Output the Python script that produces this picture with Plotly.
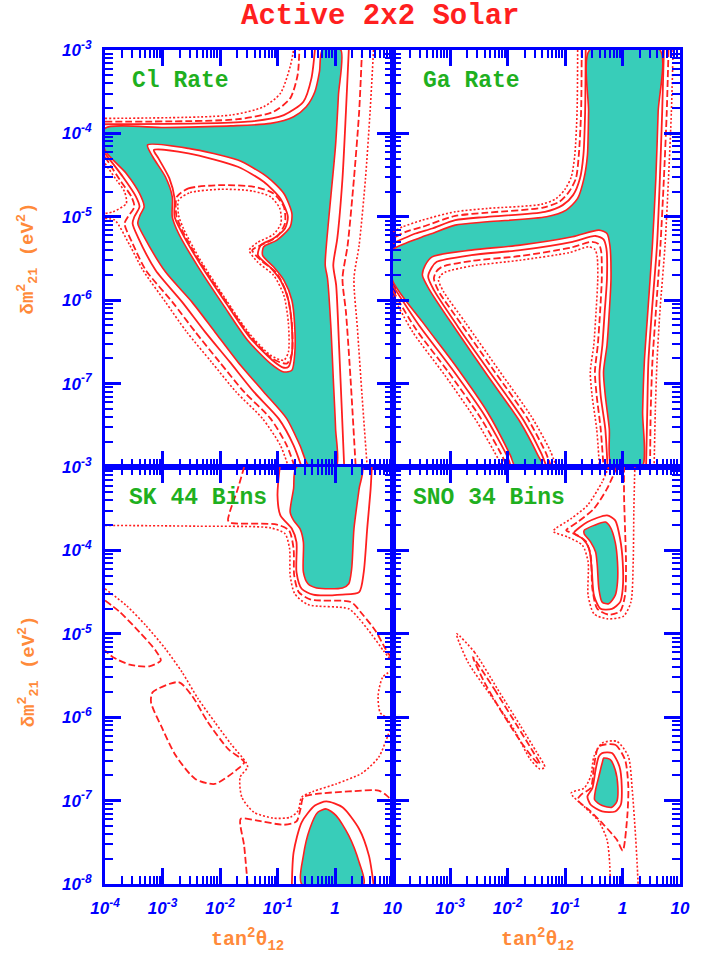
import plotly.graph_objects as go
from plotly.subplots import make_subplots

# ---------------- axes / labels ----------------
X_TICKS = [1e-4, 1e-3, 1e-2, 1e-1, 1, 10]
X_TICK_TEXT = ["10<sup>-4</sup>", "10<sup>-3</sup>", "10<sup>-2</sup>", "10<sup>-1</sup>", "1", "10"]
Y_TICKS = [1e-8, 1e-7, 1e-6, 1e-5, 1e-4, 1e-3]
Y_TICK_TEXT = ["10<sup>-8</sup>", "10<sup>-7</sup>", "10<sup>-6</sup>", "10<sup>-5</sup>", "10<sup>-4</sup>", "10<sup>-3</sup>"]
PANEL_TITLES = ["Cl Rate", "Ga Rate", "SK 44 Bins", "SNO 34 Bins"]
TITLE = "Active 2x2 Solar"

# ---------------- contour data: log10(tan^2), log10(dm^2) ----------------
# Cl rate
CL_CORE_X = [-4.00, -2.95, -1.81, -1.12, -0.72, -0.50, -0.35, -0.27, -0.22, 0.10, 0.06, 0.01, -0.07, -0.14, -0.17, -0.13, -0.07, -0.03, 0.01, 0.02, -0.44, -0.61, -0.84, -1.24, -1.69, -2.09, -2.49, -2.95, -3.32, -3.43, -3.39, -3.32, -3.40, -3.63, -4.00]
CL_CORE_Y = [-3.94, -3.93, -3.91, -3.88, -3.80, -3.68, -3.50, -3.26, -3.00, -3.00, -3.54, -4.14, -4.74, -5.26, -5.58, -5.74, -6.34, -6.94, -7.54, -8.00, -8.00, -7.74, -7.42, -7.10, -6.74, -6.38, -6.02, -5.66, -5.24, -5.08, -4.98, -4.88, -4.72, -4.48, -4.20]
CL_HOLE_X = [-3.26, -2.55, -1.69, -1.18, -0.89, -0.75, -0.78, -1.01, -1.24, -1.26, -1.07, -0.89, -0.75, -0.70, -0.70, -0.75, -0.89, -1.12, -1.52, -1.92, -2.38, -2.72, -2.83, -2.83, -2.95, -3.17]
CL_HOLE_Y = [-4.14, -4.18, -4.32, -4.52, -4.72, -4.96, -5.12, -5.28, -5.36, -5.46, -5.60, -5.76, -6.00, -6.32, -6.64, -6.84, -6.86, -6.76, -6.48, -6.08, -5.60, -5.20, -5.00, -4.76, -4.52, -4.28]
CL_S2_TOP_X = [-4.00, -1.52, -0.89, -0.55, -0.41, -0.35]
CL_S2_TOP_Y = [-3.89, -3.86, -3.78, -3.62, -3.34, -3.00]
CL_DA_TOP_X = [-4.00, -1.69, -1.07, -0.78, -0.65, -0.62]
CL_DA_TOP_Y = [-3.86, -3.83, -3.74, -3.58, -3.30, -3.00]
CL_DO_TOP_X = [-4.00, -1.81, -1.24, -0.95, -0.78, -0.72]
CL_DO_TOP_Y = [-3.82, -3.78, -3.68, -3.52, -3.20, -3.00]
CL_S2_RIGHT_X = [0.24, 0.19, 0.13, 0.04, -0.03, 0.02, 0.07, 0.12, 0.16]
CL_S2_RIGHT_Y = [-3.00, -3.74, -4.54, -5.26, -5.58, -5.82, -6.54, -7.34, -8.00]
CL_DA_RIGHT_X = [0.47, 0.42, 0.33, 0.22, 0.13, 0.19, 0.27, 0.36]
CL_DA_RIGHT_Y = [-3.00, -3.74, -4.54, -5.34, -5.74, -6.14, -6.94, -8.00]
CL_DO_RIGHT_X = [0.67, 0.61, 0.53, 0.42, 0.33, 0.39, 0.47, 0.56]
CL_DO_RIGHT_Y = [-3.00, -3.74, -4.54, -5.34, -5.74, -6.34, -7.14, -8.00]
CL_S2_LL_X = [-4.00, -3.69, -3.46, -3.40, -3.49, -3.52, -3.43, -3.12, -2.66, -2.26, -1.83, -1.41, -0.98, -0.72, -0.58]
CL_S2_LL_Y = [-4.24, -4.52, -4.76, -4.88, -5.00, -5.08, -5.24, -5.64, -6.02, -6.38, -6.74, -7.10, -7.42, -7.74, -8.00]
CL_DA_LL_X = [-4.00, -3.74, -3.54, -3.49, -3.60, -3.66, -3.52, -3.29, -2.83, -2.43, -2.01, -1.58, -1.12, -0.84, -0.70]
CL_DA_LL_Y = [-4.28, -4.56, -4.76, -4.88, -5.00, -5.08, -5.32, -5.64, -6.02, -6.38, -6.74, -7.10, -7.42, -7.74, -8.00]
CL_DO_LOOP_X = [-4.00, -3.80, -3.66, -3.63, -3.86, -4.00]
CL_DO_LOOP_Y = [-4.36, -4.56, -4.70, -4.84, -4.94, -4.96]
CL_DO_LL_X = [-4.00, -3.83, -3.57, -3.34, -2.95, -2.58, -2.15, -1.72, -1.26, -0.95, -0.81]
CL_DO_LL_Y = [-5.02, -5.04, -5.34, -5.64, -6.02, -6.38, -6.74, -7.10, -7.42, -7.74, -8.00]
CL_S2_HOLE_X = [-3.15, -2.55, -1.69, -1.24, -0.95, -0.82, -0.87, -1.07, -1.29, -1.34, -1.12, -0.94, -0.81, -0.75, -0.75, -0.81, -0.89, -1.09, -1.49, -1.89, -2.35, -2.67, -2.79, -2.79, -2.88, -3.07]
CL_S2_HOLE_Y = [-4.20, -4.24, -4.40, -4.58, -4.78, -5.00, -5.14, -5.26, -5.34, -5.46, -5.61, -5.77, -6.00, -6.32, -6.64, -6.80, -6.81, -6.72, -6.44, -6.04, -5.56, -5.18, -5.00, -4.78, -4.54, -4.30]
CL_DA_HOLE_X = [-2.75, -2.55, -1.98, -1.41, -1.07, -0.89, -0.87, -1.01, -1.29, -1.44, -1.29, -1.01, -0.84, -0.75, -0.75, -0.84, -1.09, -1.49, -1.89, -2.35, -2.66, -2.76]
CL_DA_HOLE_Y = [-4.76, -4.66, -4.62, -4.64, -4.72, -4.88, -5.08, -5.24, -5.34, -5.40, -5.52, -5.68, -5.92, -6.28, -6.64, -6.76, -6.70, -6.42, -6.02, -5.54, -5.16, -4.98]
CL_DO_HOLE_X = [-2.72, -2.52, -1.98, -1.44, -1.12, -0.96, -0.94, -1.07, -1.35, -1.49, -1.35, -1.07, -0.89, -0.81, -0.81, -0.89, -1.12, -1.49, -1.89, -2.34, -2.63, -2.72]
CL_DO_HOLE_Y = [-4.80, -4.71, -4.67, -4.69, -4.76, -4.90, -5.08, -5.21, -5.31, -5.40, -5.54, -5.70, -5.94, -6.28, -6.62, -6.72, -6.66, -6.40, -6.00, -5.52, -5.15, -4.98]

# Ga rate
GA_CORE_X = [-0.57, 0.65, 0.62, 0.58, 0.52, 0.44, 0.38, 0.35, 0.34, -0.19, -0.23, -0.30, -0.33, -0.27, -0.23, -0.20, -0.22, -0.27, -0.41, -0.87, -1.78, -2.63, -3.31, -3.43, -3.48, -3.37, -2.91, -2.35, -1.78, -1.47, -1.38, -1.86, -1.95, -2.35, -2.91, -3.48, -4.00, -4.00, -3.71, -3.48, -3.31, -2.91, -2.35, -1.32, -0.98, -0.78, -0.67, -0.61, -0.59]
GA_CORE_Y = [-3.00, -3.00, -3.74, -4.54, -5.34, -6.14, -6.74, -7.34, -8.00, -8.00, -7.54, -7.14, -6.86, -6.54, -6.14, -5.74, -5.34, -5.20, -5.16, -5.24, -5.34, -5.40, -5.48, -5.58, -5.70, -5.86, -6.34, -6.90, -7.46, -7.86, -8.00, -8.00, -7.86, -7.34, -6.78, -6.26, -5.76, -5.40, -5.30, -5.24, -5.20, -5.10, -5.06, -5.00, -4.92, -4.78, -4.54, -4.26, -3.74]
GA_S2_UL_X = [-0.64, -0.65, -0.68, -0.74, -0.86, -1.04, -1.35, -2.35, -2.91, -3.31, -3.60, -4.00]
GA_S2_UL_Y = [-3.00, -3.74, -4.26, -4.54, -4.74, -4.86, -4.94, -5.00, -5.04, -5.14, -5.20, -5.32]
GA_DA_UL_X = [-0.71, -0.72, -0.76, -0.81, -0.93, -1.10, -1.38, -2.35, -2.91, -3.48, -3.77, -4.00]
GA_DA_UL_Y = [-3.00, -3.74, -4.26, -4.54, -4.70, -4.82, -4.89, -4.95, -4.99, -5.12, -5.18, -5.26]
GA_DO_UL_X = [-0.78, -0.79, -0.83, -0.89, -1.00, -1.15, -1.41, -2.35, -2.91, -3.48, -3.82, -4.00]
GA_DO_UL_Y = [-3.00, -3.74, -4.26, -4.52, -4.67, -4.78, -4.85, -4.90, -4.94, -5.04, -5.12, -5.18]
GA_R_Y = [-3.00, -3.74, -4.54, -5.34, -6.14, -6.74, -7.34, -8.00]
GA_S2_R_X = [0.72, 0.69, 0.65, 0.60, 0.51, 0.45, 0.43, 0.41]
GA_DA_R_X = [0.80, 0.77, 0.72, 0.66, 0.58, 0.52, 0.49, 0.48]
GA_DO_R_X = [0.88, 0.85, 0.80, 0.74, 0.65, 0.60, 0.57, 0.55]
GA_S2_LL_X = [-4.00, -3.54, -2.97, -2.40, -2.00, -1.94]
GA_S2_LL_Y = [-5.82, -6.30, -6.82, -7.38, -7.88, -8.00]
GA_DA_LL_X = [-4.00, -3.60, -3.03, -2.46, -2.07, -2.02]
GA_DA_LL_Y = [-5.88, -6.34, -6.86, -7.42, -7.90, -8.00]
GA_DO_LL_X = [-4.00, -3.65, -3.09, -2.53, -2.15, -2.10]
GA_DO_LL_Y = [-5.94, -6.38, -6.90, -7.46, -7.92, -8.00]
GA_S2_TRI_X = [-1.32, -1.41, -1.72, -2.29, -2.86, -3.28, -3.38, -3.32, -3.23, -2.63, -1.78, -0.87, -0.47, -0.33, -0.28, -0.27, -0.31, -0.35, -0.40, -0.38, -0.30, -0.26]
GA_S2_TRI_Y = [-8.00, -7.84, -7.44, -6.88, -6.32, -5.88, -5.72, -5.61, -5.54, -5.46, -5.40, -5.30, -5.23, -5.27, -5.38, -5.74, -6.14, -6.54, -6.86, -7.14, -7.54, -8.00]
GA_DA_TRI_X = [-1.24, -1.34, -1.65, -2.22, -2.79, -3.20, -3.28, -3.24, -3.14, -2.63, -1.78, -0.90, -0.53, -0.41, -0.37, -0.36, -0.39, -0.43, -0.48, -0.45, -0.38, -0.33]
GA_DA_TRI_Y = [-8.00, -7.82, -7.42, -6.86, -6.30, -5.89, -5.74, -5.66, -5.60, -5.53, -5.47, -5.37, -5.30, -5.33, -5.42, -5.74, -6.14, -6.54, -6.86, -7.14, -7.54, -8.00]
GA_DO_TRI_X = [-1.15, -1.26, -1.58, -2.15, -2.72, -3.11, -3.20, -3.16, -3.07, -2.63, -1.78, -0.93, -0.59, -0.48, -0.44, -0.43, -0.46, -0.50, -0.56, -0.53, -0.45, -0.40]
GA_DO_TRI_Y = [-8.00, -7.80, -7.40, -6.84, -6.28, -5.90, -5.76, -5.70, -5.66, -5.59, -5.52, -5.43, -5.36, -5.39, -5.48, -5.74, -6.14, -6.54, -6.86, -7.14, -7.54, -8.00]

# SK 44 bins
SK_CORE1_X = [-0.67, -0.72, -0.78, -0.72, -0.61, -0.55, -0.55, -0.47, -0.32, 0.13, 0.24, 0.29, 0.33, 0.42, 0.47]
SK_CORE1_Y = [-3.00, -3.26, -3.54, -3.64, -3.74, -3.90, -4.26, -4.40, -4.45, -4.45, -4.40, -4.22, -3.74, -3.26, -3.00]
SK_S2_1_X = [-0.96, -1.00, -0.95, -0.75, -0.67, -0.67, -0.58, -0.38, 0.13, 0.42, 0.50, 0.56, 0.62, 0.64]
SK_S2_1_Y = [-3.00, -3.34, -3.58, -3.74, -3.90, -4.26, -4.46, -4.53, -4.53, -4.50, -4.26, -3.74, -3.26, -3.00]
SK_DA_1_X = [-1.58, -1.69, -1.83, -1.86, -1.81, -1.01, -0.80, -0.72, -0.71, -0.63, -0.42, 0.28, 0.47, 0.70, 0.87, 0.99]
SK_DA_1_Y = [-3.00, -3.26, -3.54, -3.64, -3.67, -3.69, -3.76, -3.98, -4.30, -4.50, -4.59, -4.62, -4.76, -4.96, -5.17, -5.30]
SK_DO_1_X = [-4.00, -2.38, -1.12, -0.87, -0.79, -0.78, -0.70, -0.47, 0.24, 0.42, 0.64, 0.84, 0.99]
SK_DO_1_Y = [-3.70, -3.71, -3.73, -3.80, -3.98, -4.30, -4.52, -4.65, -4.70, -4.82, -5.01, -5.20, -5.33]
SK_DO_LOOP_X = [0.99, 0.83, 0.75, 0.79, 0.99]
SK_DO_LOOP_Y = [-5.44, -5.52, -5.74, -5.95, -6.03]
SK_DA_LENS_X = [-4.00, -3.74, -3.40, -3.12, -3.03, -3.23, -3.57, -3.86, -4.00]
SK_DA_LENS_Y = [-4.60, -4.74, -4.98, -5.20, -5.32, -5.39, -5.37, -5.28, -5.20]
SK_DO_2_X = [-4.00, -3.63, -3.29, -2.95, -2.66, -2.38, -2.09, -1.81, -1.55, -1.52, -1.65, -1.62, -1.41, -1.07, -0.78, -0.64, -0.58, -0.38, 0.02, 0.47, 0.76, 0.92, 0.99]
SK_DO_2_Y = [-4.46, -4.66, -4.90, -5.18, -5.46, -5.78, -6.06, -6.32, -6.54, -6.60, -6.72, -6.96, -7.14, -7.21, -7.20, -7.12, -6.96, -6.89, -6.80, -6.67, -6.48, -6.22, -6.10]
SK_DA_QUAD_X = [-3.17, -2.72, -2.49, -2.21, -1.86, -1.58, -1.69, -2.09, -2.43, -2.77, -3.00, -3.20]
SK_DA_QUAD_Y = [-5.70, -5.58, -5.74, -6.06, -6.38, -6.54, -6.62, -6.80, -6.74, -6.46, -6.14, -5.82]
SK_DA_LOW_X = [-1.52, -1.58, -1.64, -1.35, -0.89, -0.67, -0.60, -0.55, -0.32, 0.24, 0.76, 0.90, 0.99]
SK_DA_LOW_Y = [-8.00, -7.54, -7.22, -7.24, -7.29, -7.25, -7.10, -6.96, -6.92, -6.89, -6.88, -6.94, -7.00]
SK_CORE2_X = [-0.58, -0.55, -0.44, -0.30, -0.15, 0.02, 0.24, 0.42, 0.50]
SK_CORE2_Y = [-8.00, -7.66, -7.34, -7.14, -7.10, -7.18, -7.42, -7.74, -8.00]
SK_S2_2_X = [-0.75, -0.72, -0.58, -0.35, -0.15, 0.13, 0.42, 0.59, 0.67]
SK_S2_2_Y = [-8.00, -7.62, -7.26, -7.06, -7.01, -7.08, -7.34, -7.66, -8.00]

# SNO 34 bins
SNO_CORE1_X = [-0.667, -0.496, -0.297, -0.212, -0.127, -0.087, -0.087, -0.127, -0.240, -0.354, -0.411, -0.439, -0.468, -0.553, -0.667]
SNO_CORE1_Y = [-3.76, -3.70, -3.66, -3.72, -3.90, -4.14, -4.38, -4.54, -4.64, -4.62, -4.46, -4.18, -4.02, -3.90, -3.80]
SNO_S2_1_X = [-0.837, -0.610, -0.269, -0.127, -0.042, 0.004, 0.004, -0.042, -0.184, -0.382, -0.496, -0.536, -0.581, -0.695, -0.837]
SNO_S2_1_Y = [-3.78, -3.66, -3.58, -3.64, -3.86, -4.14, -4.46, -4.62, -4.70, -4.70, -4.54, -4.22, -3.98, -3.86, -3.80]
SNO_DA_1_X = [-0.098, -0.269, -0.496, -0.780, -0.979, -0.809, -0.638, -0.553, -0.524, -0.439, -0.240, -0.042, 0.044, 0.061, 0.044, 0.027, 0.027]
SNO_DA_1_Y = [-3.00, -3.26, -3.50, -3.66, -3.76, -3.81, -3.89, -4.06, -4.46, -4.70, -4.77, -4.73, -4.54, -4.14, -3.74, -3.34, -3.00]
SNO_DO_1_X = [-0.240, -0.354, -0.610, -0.894, -1.206, -0.951, -0.695, -0.598, -0.598, -0.496, -0.269, 0.015, 0.146, 0.186, 0.197, 0.214]
SNO_DO_1_Y = [-3.00, -3.18, -3.46, -3.62, -3.77, -3.84, -3.94, -4.14, -4.54, -4.76, -4.82, -4.79, -4.62, -4.14, -3.54, -3.00]
SNO_CORE2_X = [-0.326, -0.212, -0.127, -0.081, -0.098, -0.184, -0.354, -0.485, -0.468, -0.411, -0.354]
SNO_CORE2_Y = [-6.49, -6.51, -6.63, -6.83, -7.01, -7.08, -7.06, -6.99, -6.87, -6.71, -6.55]
SNO_S2_2_X = [-0.354, -0.184, -0.053, -0.013, -0.030, -0.127, -0.354, -0.553, -0.610, -0.524, -0.468, -0.411]
SNO_S2_2_Y = [-6.43, -6.43, -6.59, -6.83, -7.05, -7.13, -7.13, -7.05, -6.95, -6.85, -6.63, -6.47]
SNO_DA_2_X = [-0.411, -0.127, 0.044, 0.101, 0.083, 0.004, -0.098, -0.326, -0.553, -0.780, -0.723, -0.553, -0.496]
SNO_DA_2_Y = [-6.35, -6.33, -6.51, -6.83, -7.19, -7.60, -7.47, -7.29, -7.13, -6.99, -6.93, -6.85, -6.59]
SNO_DO_2_X = [-0.212, -0.223, -0.269, -0.411, -0.638, -0.894, -0.667, -0.553, -0.496, -0.354, -0.098, 0.101, 0.169, 0.220, 0.254, 0.271]
SNO_DO_2_Y = [-8.00, -7.75, -7.47, -7.25, -7.09, -6.91, -6.85, -6.71, -6.47, -6.31, -6.29, -6.47, -6.87, -7.35, -7.75, -8.00]
SNO_DO_DIAG_X = [-2.886, -2.574, -2.176, -1.778, -1.494, -1.352, -1.438, -1.608, -1.892, -2.290, -2.688]
SNO_DO_DIAG_Y = [-5.00, -5.22, -5.66, -6.10, -6.42, -6.60, -6.62, -6.50, -6.14, -5.74, -5.34]
SNO_DA_DIAG_X = [-2.602, -2.233, -1.835, -1.551, -1.438, -1.494, -1.722, -2.063, -2.403]
SNO_DA_DIAG_Y = [-5.28, -5.66, -6.10, -6.42, -6.56, -6.54, -6.34, -5.98, -5.58]

# ---------------- styling ----------------
BLUE = "#0000ff"
RED = "#ff1f1f"
TEAL = "#38cdb9"
GREEN = "#1fb01f"
ORANGE = "#ff8a3a"
MONO = "Liberation Mono"

fig = make_subplots(rows=2, cols=2, horizontal_spacing=0, vertical_spacing=0)

STYLE = {
    "edge": dict(dash="solid", width=1.6),
    "solid": dict(dash="solid", width=1.8),
    "dash": dict(dash="7px,3px", width=1.8),
    "dot": dict(dash="2px,2px", width=1.6),
}


def curve(lx, ly, row, col, style="solid", fill=None, closed=False):
    xs = [10 ** v for v in lx]
    ys = [10 ** v for v in ly]
    if closed:
        xs = xs + xs[:1]
        ys = ys + ys[:1]
    st = STYLE[style]
    kw = {}
    if fill:
        kw = dict(fill="toself", fillcolor=fill)
    fig.add_trace(go.Scatter(
        x=xs, y=ys, mode="lines",
        line=dict(color=RED, width=st["width"], dash=st["dash"], shape="spline", smoothing=0.7),
        hoverinfo="skip", showlegend=False, **kw), row=row, col=col)


# Cl
curve(CL_CORE_X, CL_CORE_Y, 1, 1, "edge", fill=TEAL, closed=True)
curve(CL_HOLE_X, CL_HOLE_Y, 1, 1, "edge", fill="white", closed=True)
curve(CL_S2_TOP_X, CL_S2_TOP_Y, 1, 1, "solid")
curve(CL_DA_TOP_X, CL_DA_TOP_Y, 1, 1, "dash")
curve(CL_DO_TOP_X, CL_DO_TOP_Y, 1, 1, "dot")
curve(CL_S2_RIGHT_X, CL_S2_RIGHT_Y, 1, 1, "solid")
curve(CL_DA_RIGHT_X, CL_DA_RIGHT_Y, 1, 1, "dash")
curve(CL_DO_RIGHT_X, CL_DO_RIGHT_Y, 1, 1, "dot")
curve(CL_S2_LL_X, CL_S2_LL_Y, 1, 1, "solid")
curve(CL_DA_LL_X, CL_DA_LL_Y, 1, 1, "dash")
curve(CL_DO_LOOP_X, CL_DO_LOOP_Y, 1, 1, "dot")
curve(CL_DO_LL_X, CL_DO_LL_Y, 1, 1, "dot")
curve(CL_S2_HOLE_X, CL_S2_HOLE_Y, 1, 1, "solid", closed=True)
curve(CL_DA_HOLE_X, CL_DA_HOLE_Y, 1, 1, "dash", closed=True)
curve(CL_DO_HOLE_X, CL_DO_HOLE_Y, 1, 1, "dot", closed=True)

# Ga
curve(GA_CORE_X, GA_CORE_Y, 1, 2, "edge", fill=TEAL, closed=True)
curve(GA_S2_UL_X, GA_S2_UL_Y, 1, 2, "solid")
curve(GA_DA_UL_X, GA_DA_UL_Y, 1, 2, "dash")
curve(GA_DO_UL_X, GA_DO_UL_Y, 1, 2, "dot")
curve(GA_S2_R_X, GA_R_Y, 1, 2, "solid")
curve(GA_DA_R_X, GA_R_Y, 1, 2, "dash")
curve(GA_DO_R_X, GA_R_Y, 1, 2, "dot")
curve(GA_S2_LL_X, GA_S2_LL_Y, 1, 2, "solid")
curve(GA_DA_LL_X, GA_DA_LL_Y, 1, 2, "dash")
curve(GA_DO_LL_X, GA_DO_LL_Y, 1, 2, "dot")
curve(GA_S2_TRI_X, GA_S2_TRI_Y, 1, 2, "solid")
curve(GA_DA_TRI_X, GA_DA_TRI_Y, 1, 2, "dash")
curve(GA_DO_TRI_X, GA_DO_TRI_Y, 1, 2, "dot")

# SK
curve(SK_CORE1_X, SK_CORE1_Y, 2, 1, "edge", fill=TEAL, closed=True)
curve(SK_S2_1_X, SK_S2_1_Y, 2, 1, "solid")
curve(SK_DA_1_X, SK_DA_1_Y, 2, 1, "dash")
curve(SK_DO_1_X, SK_DO_1_Y, 2, 1, "dot")
curve(SK_DO_LOOP_X, SK_DO_LOOP_Y, 2, 1, "dot")
curve(SK_DA_LENS_X, SK_DA_LENS_Y, 2, 1, "dash")
curve(SK_DO_2_X, SK_DO_2_Y, 2, 1, "dot")
curve(SK_DA_QUAD_X, SK_DA_QUAD_Y, 2, 1, "dash", closed=True)
curve(SK_DA_LOW_X, SK_DA_LOW_Y, 2, 1, "dash")
curve(SK_CORE2_X, SK_CORE2_Y, 2, 1, "edge", fill=TEAL, closed=True)
curve(SK_S2_2_X, SK_S2_2_Y, 2, 1, "solid")

# SNO
curve(SNO_CORE1_X, SNO_CORE1_Y, 2, 2, "edge", fill=TEAL, closed=True)
curve(SNO_S2_1_X, SNO_S2_1_Y, 2, 2, "solid", closed=True)
curve(SNO_DA_1_X, SNO_DA_1_Y, 2, 2, "dash")
curve(SNO_DO_1_X, SNO_DO_1_Y, 2, 2, "dot")
curve(SNO_CORE2_X, SNO_CORE2_Y, 2, 2, "edge", fill=TEAL, closed=True)
curve(SNO_S2_2_X, SNO_S2_2_Y, 2, 2, "solid", closed=True)
curve(SNO_DA_2_X, SNO_DA_2_Y, 2, 2, "dash", closed=True)
curve(SNO_DO_2_X, SNO_DO_2_Y, 2, 2, "dot")
curve(SNO_DO_DIAG_X, SNO_DO_DIAG_Y, 2, 2, "dot", closed=True)
curve(SNO_DA_DIAG_X, SNO_DA_DIAG_Y, 2, 2, "dash", closed=True)

# ---------------- axes ----------------
tickfont = dict(family="Liberation Sans", size=17, color=BLUE, style="italic", weight="bold")
common = dict(
    type="log", showgrid=False, zeroline=False, showline=True, linecolor=BLUE, linewidth=3,
    mirror="allticks", ticks="inside", ticklen=16, tickwidth=2.5, tickcolor=BLUE,
    minor=dict(ticks="inside", ticklen=8, tickwidth=2, tickcolor=BLUE, dtick="D1", showgrid=False),
    tickfont=tickfont, tickmode="array", ticklabelstandoff=7,
)
for r in (1, 2):
    for c in (1, 2):
        xv, xt = list(X_TICKS), list(X_TICK_TEXT)
        if c == 2:
            xv, xt = xv[1:], xt[1:]
        fig.update_xaxes(range=[-4, 1], tickvals=xv, ticktext=xt,
                         showticklabels=(r == 2), row=r, col=c, **common)
        yv, yt = list(Y_TICKS), list(Y_TICK_TEXT)
        if r == 1:
            yv, yt = yv[1:], yt[1:]
        fig.update_yaxes(range=[-8, -3], tickvals=yv, ticktext=yt,
                         showticklabels=(c == 1), row=r, col=c, **common)

# ---------------- text ----------------
anns = []
anns.append(dict(text=TITLE, xref="paper", yref="paper", x=0.479, y=1.04, showarrow=False,
                 font=dict(family=MONO, size=29, color=RED, weight="bold"), xanchor="center", yanchor="middle"))
label_pos = [("x domain", "y domain", 0.086), ("x2 domain", "y2 domain", 0.10),
             ("x3 domain", "y3 domain", 0.075), ("x4 domain", "y4 domain", 0.065)]
for (xr, yr, px), name in zip(label_pos, PANEL_TITLES):
    anns.append(dict(text=name, xref=xr, yref=yr, x=px, y=0.925, showarrow=False,
                     xanchor="left", yanchor="middle",
                     font=dict(family=MONO, size=23, color=GREEN, weight="bold")))
ytitle = "δm<sup>2</sup><sub>21</sub> (eV<sup>2</sup>)"
for yy in (0.75, 0.255):
    anns.append(dict(text=ytitle, xref="paper", yref="paper", x=-0.134, y=yy, showarrow=False,
                     textangle=-90, xanchor="center", yanchor="middle",
                     font=dict(family=MONO, size=19, color=ORANGE, weight="bold")))
xtitle = "tan<sup>2</sup>θ<sub>12</sub>"
for xx in (0.248, 0.752):
    anns.append(dict(text=xtitle, xref="paper", yref="paper", x=xx, y=-0.067, showarrow=False,
                     xanchor="center", yanchor="middle",
                     font=dict(family=MONO, size=20, color=ORANGE, weight="bold")))

fig.update_layout(width=702, height=961, margin=dict(l=105, r=13, t=50, b=77),
                  paper_bgcolor="white", plot_bgcolor="white", showlegend=False,
                  annotations=anns)

fig.write_html("out.html")
